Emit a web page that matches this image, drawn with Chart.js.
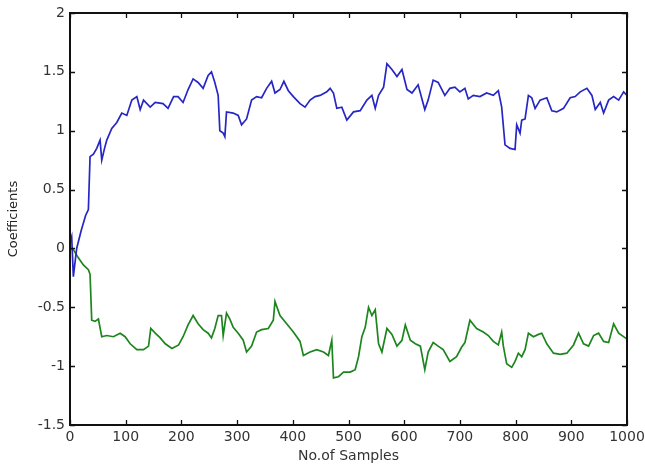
<!DOCTYPE html>
<html>
<head>
<meta charset="utf-8">
<script src="https://cdn.jsdelivr.net/npm/chart.js@4"></script>
<style>
  body { margin: 0; background: #fff; }
  #wrap { width: 645px; height: 468px; }
</style>
</head>
<body>
<div id="wrap"><canvas id="coefChart"></canvas></div>
<script>
// sample index / coefficient values
const blueX = [
  0, 3, 6, 12, 20, 28, 33, 36, 42, 48,
  54, 57, 62, 66, 75, 84, 93, 102, 111, 120,
  126, 132, 144, 153, 167, 176, 186, 194, 203, 212,
  221, 230, 239, 248, 254, 260, 266, 269, 275, 278,
  281, 293, 302, 308, 317, 326, 335, 344, 353, 362,
  368, 377, 384, 392, 401, 413, 422, 431, 440, 449,
  461, 467, 473, 479, 488, 497, 509, 521, 533, 542,
  548, 554, 563, 569, 578, 587, 596, 605, 614, 625,
  637, 643, 652, 661, 673, 682, 691, 700, 709, 715,
  724, 736, 748, 760, 769, 775, 781, 790, 799, 802,
  808, 811, 817, 823, 829, 835, 844, 856, 865, 874,
  886, 898, 907, 916, 928, 937, 943, 952, 958, 967,
  976, 985, 994, 1000
];
const blueY = [
  0.05, 0.1, -0.24, 0.0, 0.15, 0.28, 0.33, 0.78, 0.8, 0.85,
  0.92, 0.75, 0.85, 0.92, 1.02, 1.07, 1.15, 1.13, 1.26, 1.29,
  1.18, 1.26, 1.2, 1.24, 1.23, 1.19, 1.29, 1.29, 1.24, 1.35,
  1.44, 1.41, 1.36, 1.47, 1.5, 1.41, 1.30, 1.0, 0.98, 0.95,
  1.16, 1.15, 1.13, 1.05, 1.10, 1.26, 1.29, 1.28, 1.36, 1.42,
  1.32, 1.35, 1.42, 1.34, 1.29, 1.23, 1.2, 1.26, 1.29, 1.30,
  1.33, 1.36, 1.32, 1.19, 1.2, 1.09, 1.16, 1.17, 1.26, 1.30,
  1.19, 1.30, 1.37, 1.57, 1.52, 1.46, 1.52, 1.35, 1.32, 1.39,
  1.18, 1.26, 1.43, 1.41, 1.30, 1.36, 1.37, 1.33, 1.36, 1.27,
  1.30, 1.29, 1.32, 1.30, 1.34, 1.20, 0.88, 0.85, 0.84, 1.05,
  0.98, 1.09, 1.1, 1.30, 1.28, 1.19, 1.26, 1.28, 1.17, 1.16,
  1.19, 1.28, 1.29, 1.33, 1.36, 1.30, 1.18, 1.24, 1.15, 1.26,
  1.29, 1.26, 1.33, 1.30
];
const greenX = [
  0, 6, 15, 24, 33, 36, 39, 45, 51, 57,
  66, 78, 90, 99, 108, 120, 132, 141, 145, 153,
  162, 171, 183, 195, 203, 212, 221, 230, 239, 248,
  254, 260, 266, 272, 275, 281, 287, 293, 302, 311,
  317, 326, 335, 344, 356, 365, 368, 377, 389, 401,
  413, 419, 431, 443, 455, 464, 470, 473, 482, 491,
  503, 512, 518, 524, 530, 536, 542, 548, 554, 560,
  569, 578, 587, 596, 602, 611, 620, 629, 637, 643,
  652, 661, 670, 682, 694, 703, 709, 718, 730, 742,
  751, 760, 769, 775, 778, 784, 793, 799, 805, 811,
  817, 823, 832, 841, 847, 856, 868, 880, 892, 904,
  913, 922, 931, 940, 949, 958, 967, 976, 985, 997,
  1000
];
const greenY = [
  0.0, -0.01, -0.08, -0.14, -0.18, -0.22, -0.61, -0.62, -0.6, -0.75,
  -0.74, -0.75, -0.72, -0.75, -0.81, -0.86, -0.86, -0.83, -0.68, -0.72,
  -0.76, -0.81, -0.85, -0.82, -0.75, -0.65, -0.57, -0.64, -0.69, -0.72,
  -0.76, -0.68, -0.57, -0.57, -0.74, -0.55, -0.6, -0.67, -0.72, -0.78,
  -0.88, -0.83, -0.71, -0.69, -0.68, -0.61, -0.45, -0.57, -0.64, -0.71,
  -0.79, -0.91, -0.88, -0.86, -0.88, -0.91, -0.78, -1.10, -1.09, -1.05,
  -1.05, -1.03, -0.92, -0.75, -0.67, -0.50, -0.57, -0.52, -0.81, -0.88,
  -0.68, -0.73, -0.83, -0.78, -0.65, -0.78, -0.81, -0.83, -1.03, -0.88,
  -0.80, -0.83, -0.86, -0.96, -0.92, -0.84, -0.80, -0.61, -0.68, -0.71,
  -0.74, -0.79, -0.82, -0.71, -0.83, -0.98, -1.01, -0.96, -0.89, -0.92,
  -0.86, -0.72, -0.75, -0.73, -0.72, -0.81, -0.89, -0.90, -0.89, -0.82,
  -0.72, -0.81, -0.83, -0.74, -0.72, -0.79, -0.80, -0.64, -0.72, -0.76,
  -0.77
];
const xTicks = [0, 100, 200, 300, 400, 500, 600, 700, 800, 900, 1000];
const yTicks = [-1.5, -1, -0.5, 0, 0.5, 1, 1.5, 2];

const toPoints = (xs, ys) => xs.map((x, i) => ({ x: x, y: ys[i] }));

// matlab style box with inward tick marks on all four sides
const boxPlugin = {
  id: "matlabBox",
  afterDraw(chart) {
    const { ctx, chartArea: a, scales } = chart;
    ctx.save();
    ctx.strokeStyle = "#111";
    ctx.lineWidth = 2;
    ctx.strokeRect(a.left, a.top, a.right - a.left, a.bottom - a.top);
    ctx.lineWidth = 1.3;
    ctx.beginPath();
    xTicks.forEach((t) => {
      const px = Math.round(scales.x.getPixelForValue(t)) + 0.5;
      ctx.moveTo(px, a.bottom);
      ctx.lineTo(px, a.bottom - 5);
      ctx.moveTo(px, a.top);
      ctx.lineTo(px, a.top + 5);
    });
    yTicks.forEach((t) => {
      const py = Math.round(scales.y.getPixelForValue(t)) + 0.5;
      ctx.moveTo(a.left, py);
      ctx.lineTo(a.left + 5, py);
      ctx.moveTo(a.right, py);
      ctx.lineTo(a.right - 5, py);
    });
    ctx.stroke();
    ctx.restore();
  },
};

const tickFont = { family: "DejaVu Sans", size: 14 };

new Chart(document.getElementById("coefChart"), {
  type: "line",
  data: {
    datasets: [
      {
        data: toPoints(blueX, blueY),
        borderColor: "#2626c4",
        borderWidth: 1.7,
        pointRadius: 0,
        tension: 0,
      },
      {
        data: toPoints(greenX, greenY),
        borderColor: "#1d851d",
        borderWidth: 1.7,
        pointRadius: 0,
        tension: 0,
      },
    ],
  },
  options: {
    responsive: true,
    maintainAspectRatio: false,
    animation: false,
    layout: { padding: { top: 13, right: 18, left: 0, bottom: 0 } },
    plugins: {
      legend: { display: false },
      tooltip: { enabled: false },
    },
    scales: {
      x: {
        type: "linear",
        min: 0,
        max: 1000,
        afterBuildTicks: (s) => (s.ticks = xTicks.map((v) => ({ value: v }))),
        afterFit: (s) => {
          s.height = 43;
          s.paddingLeft = 0;
          s.paddingRight = 0;
        },
        grid: { display: false, drawTicks: false },
        border: { display: false },
        ticks: {
          font: tickFont,
          color: "#333",
          padding: 4,
          maxRotation: 0,
          callback: (v) => String(v),
        },
        title: {
          display: true,
          text: "No.of Samples",
          font: { family: "DejaVu Sans", size: 14 },
          color: "#333",
          padding: { top: 0, bottom: 3 },
        },
      },
      y: {
        min: -1.5,
        max: 2,
        afterBuildTicks: (s) => (s.ticks = yTicks.map((v) => ({ value: v }))),
        afterFit: (s) => {
          s.width = 70;
          s.paddingTop = 0;
          s.paddingBottom = 0;
        },
        grid: { display: false, drawTicks: false },
        border: { display: false },
        ticks: {
          font: tickFont,
          color: "#333",
          padding: 5,
          callback: (v) => String(v),
        },
        title: {
          display: true,
          text: "Coefficients",
          font: { family: "DejaVu Sans", size: 13 },
          color: "#222",
          padding: { top: 6, bottom: 0 },
        },
      },
    },
  },
  plugins: [boxPlugin],
});
</script>
</body>
</html>
